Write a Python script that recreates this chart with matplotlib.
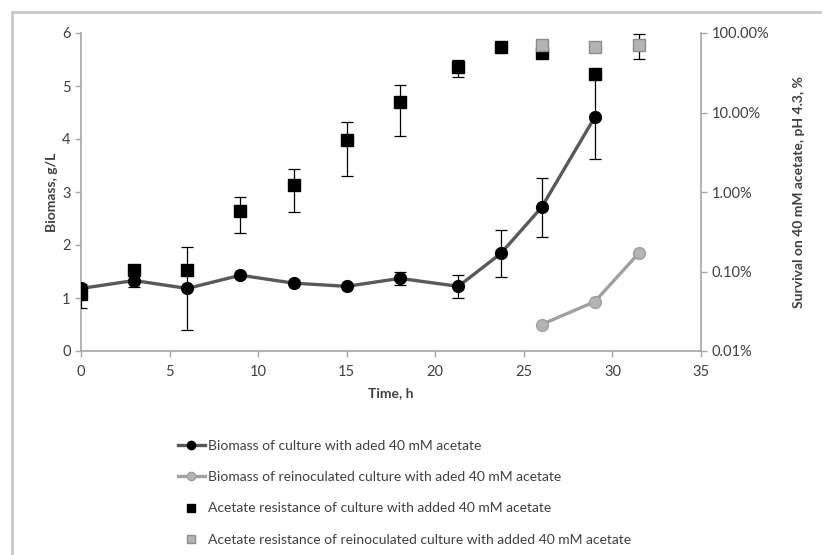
import matplotlib
matplotlib.use("Agg")
import matplotlib.pyplot as plt
from matplotlib.lines import Line2D
from matplotlib.patches import Rectangle
from matplotlib.ticker import FuncFormatter, FixedLocator

plt.rcParams['font.family'] = ['Lato', 'DejaVu Sans']

# biomass of culture with added acetate (left axis, g/L)
t_bio = [0, 3, 6, 9, 12, 15, 18, 21.3, 23.7, 26, 29]
bio = [1.18, 1.33, 1.18, 1.43, 1.28, 1.22, 1.37, 1.22, 1.84, 2.71, 4.41]
bio_err = [0.0, 0.12, 0.78, 0.0, 0.0, 0.0, 0.13, 0.22, 0.44, 0.55, 0.79]

# biomass of reinoculated culture (left axis)
t_reino = [26, 29, 31.5]
bio_reino = [0.5, 0.93, 1.85]

# acetate resistance, % survival (right axis, log)
t_res = [0, 3, 6, 9, 12, 15, 18, 21.3, 23.7, 26, 29]
res = [0.052, 0.105, 0.105, 0.584, 1.24, 4.57, 13.6, 36.9, 66.1, 56.7, 30.7]
res_err = [0.0175, 0.0, 0.0, 0.28, 0.68, 3.0, 8.6, 9.3, 0.0, 8.8, 3.0]

t_res_reino = [26, 29, 31.5]
res_reino = [70.2, 66.1, 71.4]
res_reino_err = [10.0, 0.0, 24.5]

W, H = 822, 555
fig = plt.figure(figsize=(W / 100, H / 100), dpi=100)
fig.patches.append(Rectangle((12 / W, -0.1), 1.2, 1 - 12 / H + 0.1, transform=fig.transFigure,
                             fill=False, edgecolor='#c8c8c8', linewidth=2))

ax = fig.add_axes([81 / W, 1 - 351 / H, 620 / W, 318 / H])
ax2 = ax.twinx()

axis_col = '#a6a6a6'
txt_col = '#404040'

ax.errorbar(t_bio, bio, yerr=bio_err, fmt='none', ecolor='black', elinewidth=0.9, capsize=4, capthick=0.9, zorder=2)
ax.plot(t_bio, bio, color='#595959', linewidth=2.4, marker='o', markersize=8.5,
        markerfacecolor='black', markeredgecolor='black', zorder=3)
ax.plot(t_reino, bio_reino, color='#a0a0a0', linewidth=2.4, marker='o', markersize=8.5,
        markerfacecolor='#b4b4b4', markeredgecolor='#a0a0a0', zorder=3)

ax2.errorbar(t_res, res, yerr=res_err, fmt='none', ecolor='black', elinewidth=0.9, capsize=4, capthick=0.9, zorder=2)
ax2.plot(t_res, res, linestyle='none', marker='s', markersize=8.5,
         markerfacecolor='black', markeredgecolor='black', zorder=3)
ax2.errorbar(t_res_reino, res_reino, yerr=res_reino_err, fmt='none', ecolor='black', elinewidth=0.9, capsize=4,
             capthick=0.9, zorder=4)
ax2.plot(t_res_reino, res_reino, linestyle='none', marker='s', markersize=8.5,
         markerfacecolor='#b4b4b4', markeredgecolor='#8c8c8c', zorder=5)

ax.set_xlim(0, 35)
ax.set_ylim(0, 6)
ax.set_xticks(range(0, 36, 5))
ax.set_yticks(range(0, 7))
ax2.set_yscale('log')
ax2.set_ylim(0.01, 100)
ax2.yaxis.set_major_locator(FixedLocator([0.01, 0.1, 1, 10, 100]))
ax2.yaxis.set_minor_locator(FixedLocator([]))
ax2.yaxis.set_major_formatter(FuncFormatter(lambda v, p: f"{v:.2f}%"))

for a in (ax, ax2):
    a.spines['top'].set_visible(False)
    for s in ('left', 'right', 'bottom'):
        a.spines[s].set_color(axis_col)
        a.spines[s].set_linewidth(1.2)
    a.tick_params(direction='out', length=4, width=1, color=axis_col, labelcolor=txt_col, labelsize=10.5)
ax.spines['right'].set_visible(False)
ax2.spines['left'].set_visible(False)
ax2.spines['bottom'].set_visible(False)
ax.tick_params(axis='x', pad=6)

ax.set_xlabel('Time, h', fontweight='bold', fontsize=10, color=txt_col, labelpad=6)
ax.set_ylabel('Biomass, g/L', fontweight='bold', fontsize=10, color=txt_col, labelpad=3)
ax2.set_ylabel('Survival on 40 mM acetate, pH 4.3, %', fontweight='bold', fontsize=10, color=txt_col, labelpad=17)

handles = [
    Line2D([], [], color='#595959', linewidth=2.4, marker='o', markersize=6,
           markerfacecolor='black', markeredgecolor='black'),
    Line2D([], [], color='#a0a0a0', linewidth=2.4, marker='o', markersize=6,
           markerfacecolor='#b4b4b4', markeredgecolor='#a0a0a0'),
    Line2D([], [], linestyle='none', marker='s', markersize=6,
           markerfacecolor='black', markeredgecolor='black'),
    Line2D([], [], linestyle='none', marker='s', markersize=6,
           markerfacecolor='#b4b4b4', markeredgecolor='#8c8c8c'),
]
labels = [
    'Biomass of culture with aded 40 mM acetate',
    'Biomass of reinoculated culture with aded 40 mM acetate',
    'Acetate resistance of culture with added 40 mM acetate',
    'Acetate resistance of reinoculated culture with added 40 mM acetate',
]
leg = fig.legend(handles, labels, loc='upper left', bbox_to_anchor=(172 / W, 1 - 434 / H),
                 frameon=False, fontsize=10, handlelength=2.0, handletextpad=0.2,
                 labelspacing=1.4, borderaxespad=0)
for t in leg.get_texts():
    t.set_color(txt_col)

fig.savefig('out.png', dpi=100)
